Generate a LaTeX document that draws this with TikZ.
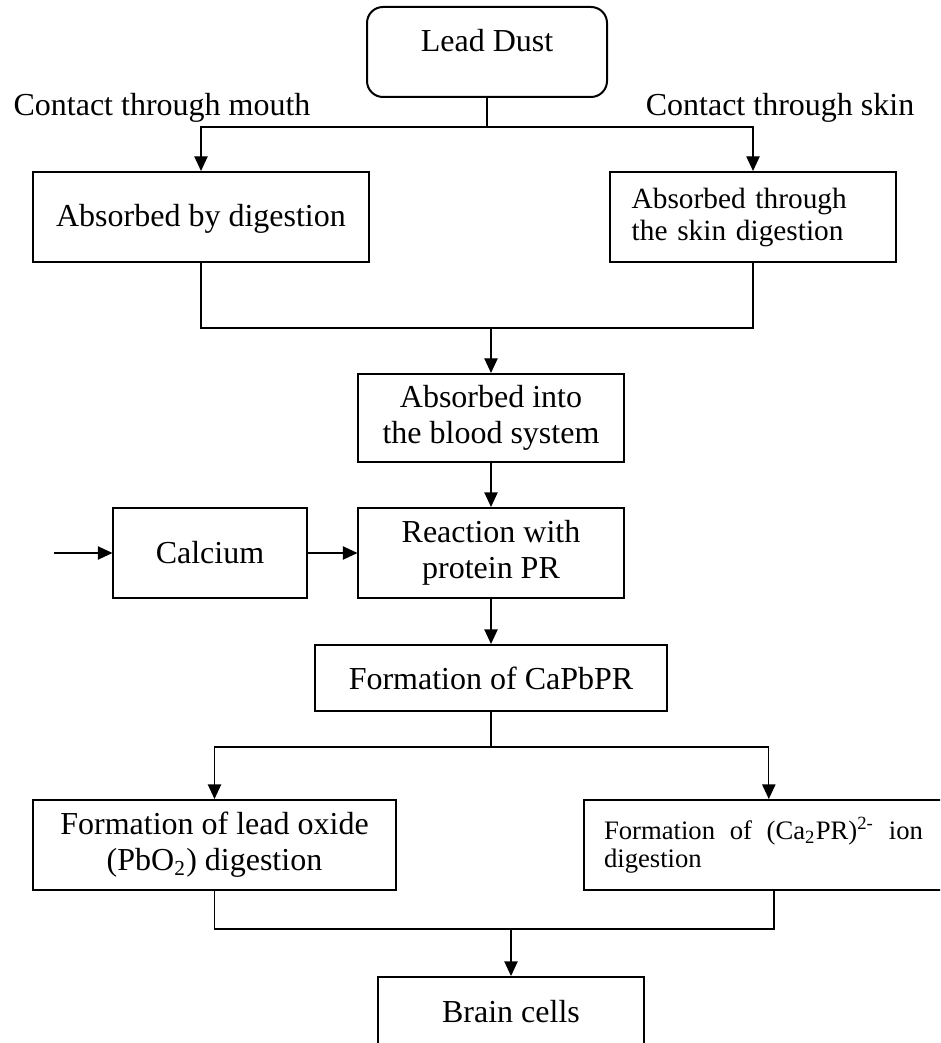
\documentclass[tikz,border=0pt]{standalone}
\usepackage{fontspec}
\setmainfont{Liberation Serif}
\usepackage{tikz}
\usetikzlibrary{arrows.meta,positioning}

\begin{document}
\begin{tikzpicture}[
  x=0.375pt, y=-0.375pt,
  every node/.style={font=\fontsize{12pt}{13.5pt}\selectfont},
  box/.style={rectangle, draw, line width=0.75pt, minimum height=33.75pt, align=center, inner sep=2pt},
  rbox/.style={box, rounded corners=6pt},
  arr/.style={-{Triangle[length=5.5pt, width=5pt]}, line width=0.5pt},
  line/.style={line width=0.5pt},
]

\clip (0,0) rectangle (940,1043);

\node[rbox, minimum width=90pt, text height=8pt, text depth=8pt] (dust) at (487,52) {Lead Dust};
\node (mouthlbl) at (162,108) {Contact through mouth};
\node (skinlbl) at (780,108) {Contact through skin};

\node[box, minimum width=126pt, text height=8pt, text depth=1pt] (digest) at (201,217) {Absorbed by digestion};
\node[box, minimum width=107.25pt, text width=91pt, inner xsep=8pt, align=left,
  font=\fontsize{11pt}{12pt}\selectfont] (skinbox) at (753,217) {Absorbed through\\the skin digestion};

\node[box, minimum width=99.75pt, minimum height=33pt] (blood) at (491,418) {Absorbed into\\the blood system};
\node[box, minimum width=72.4pt] (calcium) at (210,553) {Calcium};
\node[box, minimum width=99.4pt] (reaction) at (491,553) {Reaction with\\protein PR};
\node[box, minimum width=132pt, minimum height=24.75pt] (capbpr) at (491,678) {Formation of CaPbPR};

\node[box, minimum width=136pt] (oxide) at (214.5,845) {Formation of lead oxide\\(PbO\textsubscript{2}) digestion};
\node[box, anchor=west, text width=119.6pt, inner xsep=7.5pt, align=justify,
  font=\fontsize{10pt}{10.5pt}\selectfont] (ion) at (583,845) {Formation of (Ca\textsubscript{2}PR)\textsuperscript{2-} ion digestion};

\node[box, minimum width=99.4pt, minimum height=26.25pt] (brain) at (511,1012) {Brain cells};

\coordinate (fork1) at (487,127);
\coordinate (merge1) at (491,328);
\coordinate (feed) at (54,553);
\coordinate (fork2) at (491,747);
\coordinate (merge2) at (511,929);

\draw[line] (dust) -- (fork1);
\draw[arr] (fork1) -| (digest);
\draw[arr] (fork1) -| (skinbox);
\draw[line] (digest) |- (merge1);
\draw[line] (skinbox) |- (merge1);
\draw[arr] (merge1) -- (blood);
\draw[arr] (blood) -- (reaction);
\draw[arr] (feed) -- (calcium);
\draw[arr] (calcium) -- (reaction);
\draw[arr] (reaction) -- (capbpr);
\draw[line] (capbpr) -- (fork2);
\draw[arr] (fork2) -| (oxide);
\draw[arr] (fork2) -| ([xshift=2pt]ion.north);
\draw[line] (oxide) |- (merge2);
\draw[line] ([xshift=4pt]ion.south) |- (merge2);
\draw[arr] (merge2) -- (brain);

\end{tikzpicture}
\end{document}
